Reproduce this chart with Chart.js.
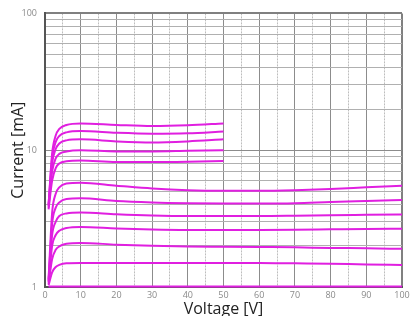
<!DOCTYPE html>
<html>
<head>
<meta charset="utf-8">
<script src="https://cdn.jsdelivr.net/npm/chart.js@4.4.1/dist/chart.umd.min.js"></script>
<style>
  html, body { margin: 0; padding: 0; background: #fff; }
  #wrap { width: 416px; height: 316px; }
</style>
</head>
<body>
<div id="wrap"><canvas id="myChart" width="416" height="316"></canvas></div>
<script>
// Voltage points (V)
const vUpper = [1, 2, 3, 4, 6, 10, 20, 30, 40, 50];
const vLower = [1, 2, 3, 4, 6, 10, 20, 30, 40, 50, 60, 70, 80, 90, 100];

// Current (mA), upper family (stops at 50 V)
const iU1 = [4.0, 9.5, 12.8, 14.3, 15.3, 15.7, 15.3, 15.0, 15.2, 15.7];
const iU2 = [4.0, 8.8, 11.5, 12.7, 13.5, 13.8, 13.4, 13.2, 13.3, 13.7];
const iU3 = [3.9, 8.0, 10.2, 11.2, 11.8, 12.0, 11.6, 11.4, 11.6, 12.0];
const iU4 = [3.8, 7.0, 8.7, 9.4, 9.8, 10.0, 9.8, 9.8, 9.9, 10.0];
const iU5 = [3.7, 6.0, 7.4, 8.0, 8.3, 8.4, 8.2, 8.2, 8.25, 8.35];

// Current (mA), lower family (to 100 V)
const iL1 = [1.15, 3.5, 4.8, 5.35, 5.7, 5.77, 5.5, 5.25, 5.1, 5.05, 5.05, 5.1, 5.2, 5.35, 5.5];
const iL2 = [1.12, 2.9, 3.8, 4.15, 4.4, 4.45, 4.25, 4.15, 4.1, 4.08, 4.08, 4.1, 4.18, 4.25, 4.32];
const iL3 = [1.1, 2.4, 3.0, 3.3, 3.45, 3.5, 3.4, 3.33, 3.3, 3.3, 3.3, 3.32, 3.35, 3.37, 3.39];
const iL4 = [1.08, 2.0, 2.4, 2.58, 2.7, 2.75, 2.68, 2.63, 2.61, 2.61, 2.61, 2.62, 2.64, 2.66, 2.67];
const iL5 = [1.05, 1.6, 1.87, 1.98, 2.07, 2.1, 2.04, 2.0, 1.98, 1.97, 1.96, 1.95, 1.93, 1.92, 1.9];
const iL6 = [1.03, 1.28, 1.4, 1.45, 1.49, 1.5, 1.5, 1.5, 1.5, 1.5, 1.5, 1.49, 1.48, 1.46, 1.45];
const iL7 = [1.01, 1.01, 1.01, 1.01, 1.01, 1.01, 1.01, 1.01, 1.01, 1.01, 1.01, 1.01, 1.01, 1.01, 1.01];

// ticks
const xTicks = [0, 5, 10, 15, 20, 25, 30, 35, 40, 45, 50, 55, 60, 65, 70, 75, 80, 85, 90, 95, 100];
const yTicks = [1, 2, 3, 4, 5, 6, 7, 8, 9, 10, 20, 30, 40, 50, 60, 70, 80, 90, 100];
const yLabels = [1, 10, 100];

const curveColor = '#e01fe0';

function toPoints(xs, ys) {
    return xs.map((x, i) => ({ x: x, y: ys[i] }));
}

const upper = [iU1, iU2, iU3, iU4, iU5].map(s => toPoints(vUpper, s));
const lower = [iL1, iL2, iL3, iL4, iL5, iL6, iL7].map(s => toPoints(vLower, s));

const datasets = upper.concat(lower).map(pts => ({
    data: pts,
    borderColor: curveColor,
    borderWidth: 2,
    pointRadius: 0,
    fill: false,
    cubicInterpolationMode: 'monotone',
    clip: 4
}));

const frameColor = '#808080';

const options = {
    responsive: false,
    animation: false,
    layout: { padding: { left: 0, right: 14, top: 12, bottom: 0 } },
    plugins: { legend: { display: false }, tooltip: { enabled: false } },
    scales: {
        x: {
            type: 'linear',
            min: 0,
            max: 100,
            afterBuildTicks: axis => { axis.ticks = xTicks.map(v => ({ value: v })); },
            afterFit: axis => { axis.height = 29; },
            ticks: {
                autoSkip: false,
                maxRotation: 0,
                padding: 3,
                color: '#8a8a8a',
                font: { family: 'Open Sans', size: 9 },
                callback: v => (v % 10 === 0 ? v : '')
            },
            grid: {
                drawTicks: false,
                color: ctx => {
                    const v = ctx.tick ? ctx.tick.value : 0;
                    if (v === 100) return frameColor;
                    return v % 10 === 0 ? '#8c8c8c' : '#bdbdbd';
                },
                lineWidth: ctx => (ctx.tick && ctx.tick.value === 100 ? 2 : 1)
            },
            border: {
                color: '#555',
                width: 2,
                dash: ctx => (ctx.tick && ctx.tick.value % 10 !== 0 ? [2, 1] : [])
            },
            title: {
                display: true,
                text: 'Voltage [V]',
                color: '#222',
                font: { family: 'Open Sans', size: 16, lineHeight: 0.875 },
                padding: { top: 0, bottom: 0 }
            }
        },
        y: {
            type: 'logarithmic',
            min: 1,
            max: 100,
            afterBuildTicks: axis => { axis.ticks = yTicks.map(v => ({ value: v })); },
            afterFit: axis => { axis.width = 45; },
            ticks: {
                autoSkip: false,
                padding: 8,
                color: '#8a8a8a',
                font: { family: 'Open Sans', size: 9 },
                callback: v => (yLabels.includes(v) ? v : '')
            },
            grid: {
                drawTicks: false,
                color: ctx => {
                    const v = ctx.tick ? ctx.tick.value : 0;
                    if (v === 100) return frameColor;
                    return yLabels.includes(v) ? '#8c8c8c' : '#b0b0b0';
                },
                lineWidth: ctx => (ctx.tick && ctx.tick.value === 100 ? 2 : 1)
            },
            border: { color: '#555', width: 2 },
            title: {
                display: true,
                text: 'Current [mA]',
                color: '#222',
                font: { family: 'Open Sans', size: 16 },
                padding: { top: 9, bottom: 0 }
            }
        }
    }
};

const ctx = document.getElementById('myChart');
new Chart(ctx, { type: 'line', data: { datasets: datasets }, options: options });
</script>
</body>
</html>
